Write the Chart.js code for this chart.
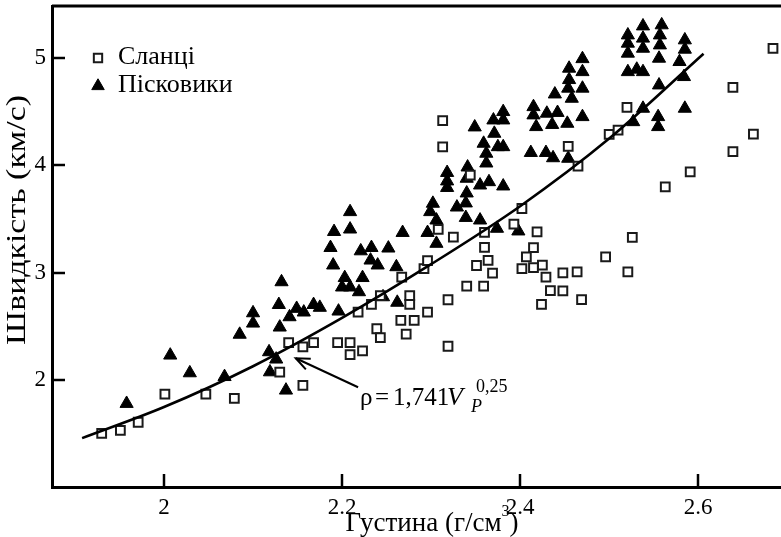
<!DOCTYPE html>
<html>
<head>
<meta charset="utf-8">
<script src="https://cdn.jsdelivr.net/npm/chart.js@4.4.1/dist/chart.umd.min.js"></script>
<style>
  html, body { margin: 0; padding: 0; background: #fff; overflow: hidden; }
  #wrap { width: 781px; height: 537px; }
</style>
</head>
<body>
<div id="wrap"><canvas id="chart" width="781" height="537"></canvas></div>
<script>
// Сланці (squares)
const shaleX = [1.930,1.951,1.971,2.001,2.047,2.079,2.130,2.140,2.156,2.156,2.168,2.195,2.209,2.209,2.223,2.218,2.233,2.243,2.239,2.243,2.267,2.266,2.281,2.272,2.276,2.276,2.292,2.296,2.296,2.308,2.313,2.313,2.319,2.319,2.325,2.340,2.344,2.351,2.359,2.360,2.360,2.364,2.369,2.393,2.402,2.402,2.407,2.415,2.415,2.419,2.425,2.429,2.424,2.434,2.448,2.448,2.454,2.464,2.465,2.469,2.496,2.500,2.510,2.520,2.521,2.526,2.563,2.591,2.639,2.639,2.662,2.684];
const shaleY = [1.505,1.533,1.608,1.869,1.869,1.831,2.074,2.349,2.311,1.952,2.349,2.349,2.349,2.237,2.272,2.633,2.707,2.787,2.479,2.397,2.959,2.558,2.558,2.428,2.787,2.707,3.040,3.113,2.633,3.404,4.418,4.173,2.749,2.316,3.332,2.875,3.910,3.068,2.875,3.237,3.377,3.115,2.996,3.453,3.599,3.040,3.148,3.234,3.048,3.381,3.071,2.959,2.707,2.833,2.999,2.831,4.178,3.008,3.993,2.751,3.148,4.289,4.329,4.541,3.008,3.329,3.801,3.940,4.727,4.129,4.292,5.090];

// Пісковики (triangles)
const sandX = [1.958,2.007,2.029,2.068,2.085,2.100,2.100,2.118,2.126,2.119,2.132,2.129,2.130,2.137,2.149,2.141,2.157,2.168,2.175,2.191,2.187,2.190,2.196,2.209,2.209,2.221,2.233,2.252,2.268,2.203,2.200,2.209,2.223,2.219,2.232,2.240,2.261,2.246,2.262,2.296,2.306,2.302,2.299,2.306,2.318,2.318,2.318,2.329,2.341,2.340,2.340,2.339,2.339,2.355,2.365,2.381,2.355,2.374,2.398,2.349,2.370,2.371,2.381,2.381,2.359,2.362,2.362,2.375,2.381,2.415,2.415,2.418,2.430,2.439,2.442,2.436,2.453,2.470,2.412,2.429,2.437,2.454,2.470,2.455,2.470,2.455,2.454,2.470,2.458,2.538,2.559,2.521,2.521,2.538,2.538,2.557,2.557,2.521,2.556,2.521,2.531,2.538,2.585,2.585,2.579,2.584,2.556,2.538,2.527,2.555,2.555,2.585];
const sandY = [1.782,2.232,2.067,2.032,2.426,2.626,2.530,2.263,2.195,2.076,2.915,2.703,2.493,1.906,2.667,2.589,2.633,2.703,2.677,3.383,3.234,3.071,2.642,3.568,3.406,3.203,3.234,3.229,3.374,2.954,2.866,2.866,2.954,2.822,3.117,3.071,3.055,2.775,2.724,3.374,3.273,3.646,3.568,3.490,3.933,3.854,3.793,3.611,3.984,3.879,3.742,3.649,3.514,3.816,3.847,3.807,3.490,3.413,3.388,4.357,4.422,4.298,4.500,4.422,4.205,4.112,4.021,4.173,4.173,4.546,4.469,4.360,4.485,4.664,4.492,4.380,4.391,4.453,4.119,4.119,4.070,4.065,4.993,4.904,4.872,4.798,4.718,4.718,4.624,5.298,5.308,5.214,5.137,5.184,5.090,5.214,5.121,5.044,4.997,4.872,4.895,4.872,5.168,5.081,4.966,4.826,4.748,4.531,4.406,4.453,4.360,4.531];

// fitted curve
const fitX = [1.908, 2.0, 2.1, 2.2, 2.3, 2.4, 2.5, 2.606];
const fitY = [1.46, 1.75, 2.13, 2.58, 3.08, 3.62, 4.25, 5.04];

const xTicks = [2, 2.2, 2.4, 2.6];
const yTicks = [2, 3, 4, 5];
const labels = ["Сланці", "Пісковики"];
const xTitle = "Густина (г/см";
const yTitle = "Швидкість (км/с)";

const SERIF = "'Liberation Serif', 'Times New Roman', serif";
const zip = (xs, ys) => xs.map((x, i) => ({ x, y: ys[i] }));

// annotation anchors in data units
const note = { tip: [2.148, 2.204], tail: [2.218, 1.934], text: [2.220, 1.766] };

const extras = {
  id: "extras",
  afterDraw(chart) {
    const { ctx, chartArea: a, scales: { x, y } } = chart;
    ctx.save();
    ctx.strokeStyle = "#000";
    ctx.fillStyle = "#000";
    // top frame line
    ctx.lineWidth = 3;
    ctx.beginPath(); ctx.moveTo(a.left, a.top); ctx.lineTo(a.right, a.top); ctx.stroke();
    // inward tick marks
    ctx.lineWidth = 2.5;
    xTicks.forEach(v => {
      const px = Math.round(x.getPixelForValue(v));
      ctx.beginPath(); ctx.moveTo(px, a.bottom); ctx.lineTo(px, a.bottom - 13); ctx.stroke();
    });
    yTicks.forEach(v => {
      const py = Math.round(y.getPixelForValue(v));
      ctx.beginPath(); ctx.moveTo(a.left, py); ctx.lineTo(a.left + 13, py); ctx.stroke();
    });

    // legend
    const ds = chart.data.datasets;
    const lx = a.left + 46, ly = a.top + 52;
    [ds[1], ds[2]].forEach((d, i) => {
      const cy = ly + i * 28;
      ctx.fillStyle = d.backgroundColor; ctx.strokeStyle = d.borderColor; ctx.lineWidth = d.borderWidth;
      Chart.helpers.drawPoint(ctx, {
        pointStyle: d.pointStyle, radius: d.pointRadius * 0.95, borderWidth: d.borderWidth, rotation: 0
      }, lx, cy);
      ctx.fillStyle = "#000";
      ctx.font = "26px " + SERIF;
      ctx.textBaseline = "alphabetic";
      ctx.textAlign = "left";
      ctx.fillText(d.label, lx + 20, cy + 6);
    });

    // axis titles
    ctx.fillStyle = "#000";
    ctx.textBaseline = "alphabetic";
    ctx.font = "27px " + SERIF;
    const w1 = ctx.measureText(xTitle).width;
    ctx.font = "16px " + SERIF;
    const w2 = ctx.measureText("3").width;
    ctx.font = "27px " + SERIF;
    const w3 = ctx.measureText(")").width;
    const sx = 432 - (w1 + w2 + w3) / 2;
    ctx.textAlign = "left";
    ctx.fillText(xTitle, sx, 531);
    ctx.font = "16px " + SERIF;
    ctx.fillText("3", sx + w1, 516);
    ctx.font = "27px " + SERIF;
    ctx.fillText(")", sx + w1 + w2, 531);

    ctx.save();
    ctx.font = "28px " + SERIF;
    const wy = ctx.measureText(yTitle).width;
    ctx.translate(25, 220);
    ctx.rotate(-Math.PI / 2);
    ctx.scale(250 / wy, 1);
    ctx.textAlign = "center";
    ctx.fillText(yTitle, 0, 0);
    ctx.restore();

    // formula annotation with arrow
    const tx = x.getPixelForValue(note.tip[0]), ty = y.getPixelForValue(note.tip[1]);
    const bx = x.getPixelForValue(note.tail[0]), by = y.getPixelForValue(note.tail[1]);
    ctx.strokeStyle = "#000";
    ctx.lineWidth = 2;
    ctx.beginPath(); ctx.moveTo(bx, by); ctx.lineTo(tx, ty); ctx.stroke();
    const ang = Math.atan2(by - ty, bx - tx);
    ctx.beginPath();
    ctx.moveTo(tx + 15 * Math.cos(ang - 0.4), ty + 15 * Math.sin(ang - 0.4));
    ctx.lineTo(tx, ty);
    ctx.lineTo(tx + 15 * Math.cos(ang + 0.4), ty + 15 * Math.sin(ang + 0.4));
    ctx.stroke();

    const nx = x.getPixelForValue(note.text[0]), ny = y.getPixelForValue(note.text[1]);
    ctx.textAlign = "left";
    ctx.font = "25px " + SERIF;
    ctx.fillText("ρ", nx, ny);
    ctx.fillText("=", nx + 15, ny);
    ctx.fillText("1,741", nx + 33, ny);
    ctx.font = "italic 26px " + SERIF;
    ctx.fillText("V", nx + 87, ny);
    ctx.font = "italic 18px " + SERIF;
    ctx.fillText("P", nx + 111, ny + 7);
    ctx.font = "18px " + SERIF;
    ctx.fillText("0,25", nx + 116, ny - 13);
    ctx.restore();
  }
};

const noEdgePad = s => { s.paddingTop = 0; s.paddingBottom = 0; s.paddingLeft = 0; s.paddingRight = 0; };

new Chart(document.getElementById("chart"), {
  type: "scatter",
  data: {
    datasets: [
      {
        type: "line", label: "fit", data: zip(fitX, fitY),
        borderColor: "#000", borderWidth: 2.6, pointRadius: 0,
        cubicInterpolationMode: "monotone", fill: false, order: 0
      },
      {
        label: labels[0], data: zip(shaleX, shaleY),
        pointStyle: "rect", pointRadius: 6.2, borderWidth: 2,
        borderColor: "#1a1a1a", backgroundColor: "#fff", order: 1
      },
      {
        label: labels[1], data: zip(sandX, sandY),
        pointStyle: "triangle", pointRadius: 7.6, borderWidth: 1,
        borderColor: "#000", backgroundColor: "#000", order: 2
      }
    ]
  },
  options: {
    responsive: false,
    animation: false,
    devicePixelRatio: 1,
    layout: { autoPadding: false, padding: { top: 6, right: 0, left: 0, bottom: 0 } },
    plugins: { legend: { display: false }, tooltip: { enabled: false } },
    scales: {
      x: {
        type: "linear", min: 1.8742, max: 2.693,
        afterFit: s => { s.height = 50; noEdgePad(s); },
        afterBuildTicks: s => { s.ticks = xTicks.map(v => ({ value: v })); },
        grid: { display: false, drawTicks: false },
        border: { display: true, width: 3, color: "#000" },
        ticks: {
          padding: 7, color: "#000",
          font: { family: SERIF, size: 23 },
          callback: v => String(v)
        }
      },
      y: {
        type: "linear", min: 1.005, max: 5.485,
        afterFit: s => { s.width = 52; noEdgePad(s); },
        afterBuildTicks: s => { s.ticks = yTicks.map(v => ({ value: v })); },
        grid: { display: false, drawTicks: false },
        border: { display: true, width: 3, color: "#000" },
        ticks: {
          padding: 6, color: "#000",
          font: { family: SERIF, size: 23 },
          callback: v => String(v)
        }
      }
    }
  },
  plugins: [extras]
});
</script>
</body>
</html>
